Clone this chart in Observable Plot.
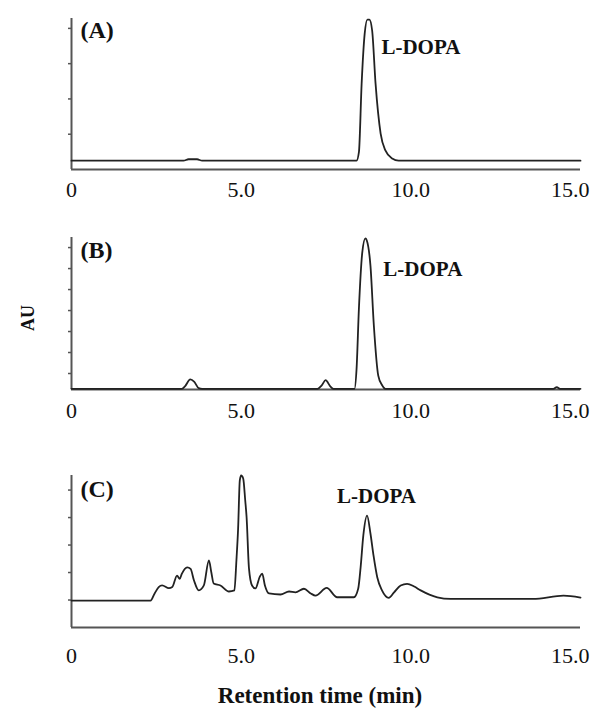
<!DOCTYPE html>
<html>
<head>
<meta charset="utf-8">
<script src="https://cdn.jsdelivr.net/npm/d3@7"></script>
<script src="https://cdn.jsdelivr.net/npm/@observablehq/plot@0.6"></script>
<style>
  body { margin: 0; background: white; }
  #wrap { position: relative; width: 598px; height: 709px; overflow: hidden; background: white; font-family: "Liberation Serif", "DejaVu Serif", serif; }
  #wrap > svg, #wrap > figure { position: absolute; left: 0; margin: 0; }
  #au { position: absolute; left: 28px; top: 318px; transform: translate(-50%, -50%) rotate(-90deg); font-weight: bold; font-size: 18px; line-height: 1; color: #111; white-space: nowrap; }
  #xlab { position: absolute; left: 320px; top: 684px; transform: translateX(-50%); font-weight: bold; font-size: 23px; line-height: 1; color: #111; white-space: nowrap; }
</style>
</head>
<body>
<div id="wrap">
  <div id="au">AU</div>
  <div id="xlab">Retention time (min)</div>
</div>
<script>
// Tick labels of the retention-time axis
const xTicks = [0, 5, 10, 15];
const xTickLabels = ["0", "5.0", "10.0", "15.0"];

// Panel labels
const panels = ["(A)", "(B)", "(C)"];
const peakName = "L-DOPA";

// Panel A: standard (retention time in min, absorbance in arbitrary units)
const timeA = [0, 3.3, 3.45, 3.7, 3.85, 8.40, 8.47, 8.55, 8.64, 8.72, 8.78, 8.86, 8.96, 9.11, 9.25, 9.45, 9.64, 15];
const auA   = [0.25, 0.25, 0.29, 0.29, 0.25, 0.25, 0.49, 2.43, 3.85, 4.25, 4.25, 3.94, 2.44, 1.02, 0.54, 0.31, 0.25, 0.25];
const yTicksA = [1, 2, 3, 4];

// Panel B
const timeB = [0, 3.25, 3.35, 3.5, 3.62, 3.75, 3.85, 7.25, 7.38, 7.49, 7.62, 7.72, 8.34, 8.40, 8.47, 8.57, 8.66, 8.70, 8.81, 8.91, 9.04, 9.15, 9.25, 14.2, 14.3, 14.4, 15];
const auB   = [0.27, 0.27, 0.4, 0.72, 0.6, 0.3, 0.27, 0.27, 0.45, 0.68, 0.4, 0.27, 0.27, 1.2, 4.1, 6.78, 7.44, 7.35, 6.14, 3.29, 0.9, 0.45, 0.27, 0.27, 0.35, 0.27, 0.27];
const yTicksB = [1, 2, 3, 4, 5, 6, 7];

// Panel C
const timeC = [0, 2.33, 2.45, 2.57, 2.67, 2.87, 2.97, 3.11, 3.19, 3.25, 3.41, 3.51, 3.61, 3.75, 3.90, 4.05, 4.12, 4.19, 4.39, 4.64, 4.80, 4.86, 4.91, 4.96, 5.00, 5.06, 5.12, 5.16, 5.23, 5.32, 5.42, 5.55, 5.62, 5.70, 5.82, 6.16, 6.41, 6.60, 6.85, 7.05, 7.19, 7.52, 7.83, 8.32, 8.45, 8.52, 8.60, 8.71, 8.81, 8.90, 9.01, 9.15, 9.35, 9.50, 9.70, 9.89, 10.1, 10.29, 10.78, 11.17, 13.6, 14.5, 15];
const auC   = [0.98, 0.98, 1.24, 1.47, 1.53, 1.43, 1.47, 1.89, 1.77, 1.95, 2.19, 2.13, 1.71, 1.35, 1.53, 2.44, 2.01, 1.6, 1.53, 1.31, 1.35, 2.44, 3.6, 5.35, 5.53, 5.42, 4.62, 4.01, 2.15, 1.53, 1.42, 1.85, 1.96, 1.53, 1.24, 1.2, 1.31, 1.28, 1.41, 1.24, 1.16, 1.44, 1.1, 1.1, 1.42, 2.19, 3.35, 4.07, 3.42, 2.62, 1.83, 1.35, 1.08, 1.27, 1.53, 1.59, 1.49, 1.35, 1.1, 1.04, 1.04, 1.16, 1.09];
const yTicksC = [1, 2, 3, 4, 5];

const FONT = "Liberation Serif";
const INK = "#222";
const AXIS = "#555";

function panel({time, au, yDomain, yTicks, label, top, height, marginTop, marginBottom, tickPad, peakLo, peakHi, ldx, ldy, lanchor, labDy}) {
  const data = time.map((t, i) => ({t, v: au[i]}));
  // L-DOPA peak = the maximum inside its retention window
  const peak = d3.greatest(data.filter(d => d.t >= peakLo && d.t <= peakHi), d => d.v);
  const fmt = d => xTickLabels[xTicks.indexOf(d)];
  const inner = xTicks.slice(0, -1);
  const last = xTicks.slice(-1);
  const svg = Plot.plot({
    width: 598,
    height,
    marginLeft: 71,
    marginRight: 18,
    marginTop,
    marginBottom,
    style: {fontFamily: FONT, fontSize: "22px", color: "#111", background: "transparent", overflow: "visible"},
    x: {domain: [0, 15], label: null},
    y: {domain: yDomain, label: null},
    marks: [
      Plot.ruleY([yDomain[0]], {stroke: AXIS, strokeWidth: 2}),
      Plot.ruleX([0], {stroke: AXIS, strokeWidth: 2}),
      Plot.axisY({ticks: yTicks, tickSize: 3, tickFormat: () => "", stroke: AXIS, strokeWidth: 1.5}),
      Plot.axisX({ticks: inner, tickSize: 0, tickPadding: tickPad, tickFormat: fmt, fill: "#111"}),
      Plot.axisX({ticks: last, tickSize: 0, tickPadding: tickPad, tickFormat: fmt, fill: "#111", textAnchor: "end", dx: 9}),
      Plot.line(data, {x: "t", y: "v", stroke: INK, strokeWidth: 1.8, curve: "monotone-x"}),
      Plot.text([label], {frameAnchor: "top-left", dx: 9, dy: labDy, text: d => d, textAnchor: "start", lineAnchor: "bottom", fontSize: 24, fontWeight: "bold", fill: "#111"}),
      Plot.text([peak], {x: "t", y: "v", text: () => peakName, dx: ldx, dy: ldy, textAnchor: lanchor, lineAnchor: "bottom", fontSize: 21, fontWeight: "bold", fill: "#111"})
    ]
  });
  svg.style.top = top + "px";
  document.getElementById("wrap").appendChild(svg);
}

panel({time: timeA, au: auA, yDomain: [0, 4.28], yTicks: yTicksA, label: panels[0], top: 0, height: 200, marginTop: 18, marginBottom: 31, tickPad: 12, peakLo: 8, peakHi: 10, ldx: 14, ldy: 34, lanchor: "start", labDy: 19.5});
panel({time: timeB, au: auB, yDomain: [0.238, 7.48], yTicks: yTicksB, label: panels[1], top: 200, height: 230, marginTop: 37, marginBottom: 41, tickPad: 13, peakLo: 8, peakHi: 10, ldx: 18, ldy: 38, lanchor: "start", labDy: 20});
panel({time: timeC, au: auC, yDomain: [0, 5.53], yTicks: yTicksC, label: panels[2], top: 430, height: 240, marginTop: 45, marginBottom: 43, tickPad: 20, peakLo: 8, peakHi: 10, ldx: 9.5, ldy: -13, lanchor: "middle", labDy: 21});
</script>
</body>
</html>
